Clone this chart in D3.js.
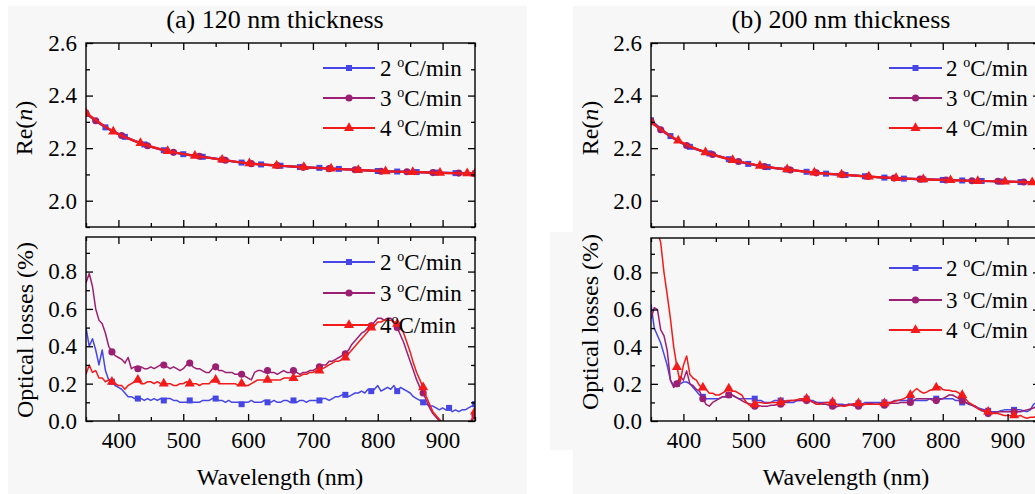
<!DOCTYPE html>
<html><head><meta charset="utf-8">
<script src="https://cdn.jsdelivr.net/npm/d3@7"></script>
<style>
body{margin:0;background:#fff;}
svg{display:block;}
</style>
</head><body>
<svg id="c" width="1035" height="494"></svg>
<script>
// ---------------- DATA ----------------
const seriesNames = ["2", "3", "4"];            // heating rates (ºC/min)
const xMajorTicks = [400, 500, 600, 700, 800, 900];
const xMinorTicks = [350, 450, 550, 650, 750, 850, 950];
const reMajorTicks = [2.0, 2.2, 2.4, 2.6];
const reMinorTicks = [1.9, 2.1, 2.3, 2.5];
const lossMajorTicks = [0.0, 0.2, 0.4, 0.6, 0.8];
const lossMinorTicks = [0.1, 0.3, 0.5, 0.7, 0.9];

// Re(n) — panel (a)
const reA2_wl = [350,380,410,440,470,500,530,560,590,620,650,680,710,740,770,800,830,860,890,920,950];
const reA2    = [2.332,2.279,2.243,2.214,2.192,2.177,2.167,2.156,2.145,2.138,2.133,2.128,2.125,2.121,2.117,2.113,2.111,2.109,2.107,2.105,2.103];
const reA3_wl = [350,365,405,445,485,525,565,605,645,685,725,765,805,845,885,925,950];
const reA3    = [2.332,2.304,2.248,2.209,2.184,2.169,2.154,2.141,2.134,2.127,2.122,2.118,2.112,2.110,2.107,2.105,2.103];
const reA4_wl = [350,392,434,476,518,560,602,644,686,728,770,812,854,896,938,950];
const reA4    = [2.334,2.263,2.219,2.189,2.171,2.156,2.142,2.134,2.128,2.122,2.117,2.112,2.109,2.106,2.104,2.103];

// Re(n) — panel (b)
const reB2_wl = [350,380,410,440,470,500,530,560,590,620,650,680,710,740,770,800,830,860,890,920,950];
const reB2    = [2.306,2.246,2.205,2.180,2.158,2.140,2.128,2.119,2.110,2.103,2.098,2.093,2.088,2.084,2.081,2.079,2.077,2.075,2.073,2.071,2.069];
const reB3_wl = [350,365,405,445,485,525,565,605,645,685,725,765,805,845,885,925,950];
const reB3    = [2.302,2.270,2.210,2.176,2.149,2.130,2.117,2.106,2.099,2.092,2.086,2.082,2.079,2.076,2.074,2.071,2.069];
const reB4_wl = [350,392,434,476,518,560,602,644,686,728,770,812,854,896,938,950];
const reB4    = [2.298,2.229,2.184,2.155,2.133,2.119,2.107,2.099,2.092,2.086,2.081,2.078,2.075,2.073,2.070,2.069];

// Optical losses — wavelength grid (nm)
const lossWl = [
 350,355,360,365,370,375,380,385,390,395,
 400,405,410,415,420,425,430,435,440,445,
 450,455,460,465,470,475,480,485,490,495,
 500,505,510,515,520,525,530,535,540,545,
 550,555,560,565,570,575,580,585,590,595,
 600,605,610,615,620,625,630,635,640,645,
 650,655,660,665,670,675,680,685,690,695,
 700,705,710,715,720,725,730,735,740,745,
 750,755,760,765,770,775,780,785,790,795,
 800,805,810,815,820,825,830,835,840,845,
 850,855,860,865,870,875,880,885,890,895,
 900,905,910,915,920,925,930,935,940,945,
 950];
const lossMarkerWl = [390,430,470,510,550,590,630,670,710,750,790,830,870,910,950];

// Optical losses — panel (a)
const lossA2 = [
 0.50,0.40,0.44,0.38,0.30,0.38,0.27,0.22,0.21,0.19,
 0.18,0.17,0.15,0.13,0.13,0.12,0.12,0.12,0.11,0.12,
 0.11,0.12,0.11,0.12,0.11,0.12,0.12,0.11,0.11,0.10,
 0.10,0.10,0.11,0.10,0.10,0.10,0.11,0.11,0.11,0.12,
 0.12,0.11,0.11,0.10,0.11,0.10,0.10,0.10,0.09,0.10,
 0.10,0.11,0.10,0.10,0.10,0.11,0.10,0.10,0.11,0.10,
 0.10,0.11,0.11,0.10,0.11,0.10,0.11,0.11,0.10,0.11,
 0.11,0.11,0.11,0.12,0.12,0.11,0.12,0.13,0.13,0.14,
 0.14,0.13,0.14,0.15,0.15,0.16,0.15,0.17,0.16,0.17,
 0.19,0.16,0.17,0.18,0.17,0.19,0.16,0.18,0.17,0.16,
 0.15,0.13,0.12,0.11,0.10,0.09,0.08,0.08,0.07,0.06,
 0.07,0.06,0.07,0.05,0.06,0.05,0.06,0.06,0.07,0.08,
 0.09];
const lossA3 = [
 0.74,0.79,0.72,0.60,0.54,0.52,0.47,0.40,0.37,0.35,
 0.34,0.33,0.31,0.34,0.28,0.29,0.28,0.29,0.28,0.28,
 0.29,0.28,0.29,0.30,0.30,0.29,0.28,0.29,0.28,0.27,
 0.28,0.30,0.31,0.29,0.28,0.28,0.27,0.26,0.26,0.28,
 0.29,0.27,0.27,0.26,0.26,0.26,0.25,0.25,0.25,0.24,
 0.23,0.22,0.26,0.27,0.27,0.26,0.27,0.26,0.26,0.25,
 0.26,0.27,0.26,0.26,0.27,0.26,0.25,0.26,0.26,0.27,
 0.27,0.28,0.29,0.30,0.30,0.32,0.32,0.33,0.34,0.35,
 0.36,0.38,0.41,0.43,0.45,0.47,0.48,0.50,0.51,0.53,
 0.55,0.55,0.54,0.55,0.55,0.53,0.50,0.46,0.42,0.37,
 0.32,0.27,0.22,0.18,0.15,0.11,0.07,0.04,0.02,0.00,
 -0.02,-0.03,-0.04,-0.05,-0.05,-0.05,-0.05,-0.04,-0.03,0.00,
 0.03];
const lossA4 = [
 0.25,0.30,0.26,0.27,0.23,0.23,0.21,0.22,0.21,0.20,
 0.19,0.19,0.17,0.19,0.20,0.21,0.22,0.20,0.20,0.21,
 0.21,0.20,0.21,0.20,0.20,0.20,0.20,0.19,0.19,0.20,
 0.20,0.21,0.20,0.20,0.20,0.19,0.20,0.20,0.20,0.22,
 0.22,0.20,0.20,0.20,0.20,0.20,0.20,0.19,0.20,0.19,
 0.19,0.20,0.21,0.22,0.22,0.22,0.22,0.22,0.22,0.22,
 0.22,0.23,0.23,0.23,0.23,0.24,0.24,0.25,0.25,0.26,
 0.26,0.27,0.27,0.28,0.29,0.30,0.31,0.32,0.32,0.33,
 0.34,0.36,0.38,0.40,0.42,0.44,0.46,0.48,0.50,0.51,
 0.53,0.53,0.54,0.54,0.54,0.53,0.52,0.51,0.47,0.42,
 0.37,0.31,0.26,0.22,0.18,0.13,0.09,0.05,0.03,0.01,
 -0.01,-0.02,-0.03,-0.04,-0.05,-0.05,-0.05,-0.04,-0.02,0.01,
 0.05];

// Optical losses — panel (b)
const lossB2 = [
 0.63,0.50,0.46,0.42,0.36,0.30,0.22,0.19,0.20,0.20,
 0.21,0.21,0.20,0.18,0.16,0.14,0.13,0.12,0.12,0.12,
 0.12,0.12,0.13,0.13,0.14,0.14,0.13,0.12,0.12,0.12,
 0.12,0.12,0.12,0.11,0.11,0.10,0.10,0.10,0.11,0.11,
 0.11,0.11,0.10,0.10,0.10,0.11,0.11,0.12,0.12,0.11,
 0.11,0.10,0.10,0.10,0.10,0.10,0.10,0.09,0.09,0.09,
 0.085,0.09,0.09,0.09,0.095,0.09,0.10,0.10,0.10,0.10,
 0.10,0.10,0.10,0.10,0.10,0.11,0.11,0.11,0.11,0.11,
 0.11,0.11,0.11,0.11,0.11,0.11,0.12,0.12,0.12,0.12,
 0.12,0.12,0.12,0.12,0.11,0.11,0.10,0.10,0.09,0.085,
 0.08,0.07,0.065,0.06,0.055,0.05,0.05,0.05,0.055,0.06,
 0.06,0.06,0.06,0.06,0.06,0.055,0.05,0.06,0.09,0.10,
 0.11];
const lossB3 = [
 0.55,0.61,0.60,0.49,0.46,0.38,0.22,0.18,0.20,0.24,
 0.22,0.27,0.20,0.19,0.17,0.16,0.12,0.09,0.08,0.10,
 0.11,0.12,0.13,0.13,0.14,0.14,0.13,0.12,0.11,0.10,
 0.095,0.09,0.08,0.085,0.08,0.08,0.08,0.085,0.085,0.09,
 0.09,0.10,0.10,0.11,0.11,0.11,0.11,0.11,0.11,0.11,
 0.10,0.10,0.095,0.09,0.09,0.085,0.08,0.075,0.08,0.085,
 0.085,0.09,0.085,0.08,0.08,0.085,0.09,0.095,0.095,0.09,
 0.09,0.09,0.085,0.09,0.095,0.095,0.095,0.10,0.10,0.10,
 0.10,0.11,0.12,0.12,0.12,0.12,0.12,0.11,0.11,0.115,
 0.12,0.13,0.14,0.14,0.13,0.12,0.11,0.10,0.095,0.085,
 0.075,0.065,0.055,0.05,0.04,0.04,0.045,0.05,0.05,0.05,
 0.05,0.05,0.05,0.05,0.05,0.055,0.06,0.065,0.07,0.08,
 0.09];
const lossB4 = [
 1.30,1.15,1.02,0.96,0.80,0.68,0.55,0.40,0.29,0.21,
 0.30,0.35,0.25,0.23,0.22,0.19,0.18,0.17,0.15,0.15,
 0.14,0.14,0.15,0.16,0.175,0.16,0.16,0.15,0.14,0.11,
 0.09,0.08,0.09,0.10,0.10,0.095,0.095,0.10,0.10,0.10,
 0.10,0.105,0.11,0.11,0.11,0.115,0.12,0.12,0.12,0.11,
 0.10,0.09,0.09,0.095,0.10,0.10,0.10,0.09,0.085,0.08,
 0.08,0.085,0.09,0.095,0.095,0.09,0.09,0.09,0.09,0.09,
 0.09,0.095,0.095,0.10,0.10,0.105,0.11,0.115,0.12,0.13,
 0.14,0.16,0.175,0.16,0.15,0.155,0.165,0.17,0.18,0.185,
 0.17,0.165,0.165,0.16,0.16,0.15,0.14,0.12,0.10,0.09,
 0.08,0.065,0.06,0.055,0.05,0.045,0.04,0.04,0.035,0.03,
 0.03,0.03,0.03,0.025,0.03,0.02,0.015,0.02,0.02,0.025,
 0.03];

// ---------------- STYLE / LAYOUT ----------------
const FONT = '"Liberation Serif", "Times New Roman", Times, Tinos, "Nimbus Roman", "Nimbus Roman No9 L", "TeX Gyre Termes", FreeSerif, "Noto Serif", "DejaVu Serif", "Bitstream Vera Serif", Georgia, serif';
const COLORS = ["#4646e6", "#9b1f72", "#f21a1a"];
const SYMBOLS = [d3.symbolSquare, d3.symbolCircle, d3.symbolTriangle];
const SYM_SIZE = [36, 40, 44];
const PW = 389;
const TOP_Y = [43, 227];
const BOT_Y = [237, 421];

const svg = d3.select("#c").style("font-family", FONT);

// paper backgrounds
svg.append("rect").attr("x", 8).attr("y", 6).attr("width", 519).attr("height", 488).attr("fill", "#f7f7f7");
svg.append("path").attr("d", "M573,6H1035V494H573V450H550V232H573Z").attr("fill", "#f7f7f7");

let clipCount = 0;
function superLabel(textSel, num, spaced) {
  textSel.append("tspan").text(num + (spaced ? "\u00a0" : ""));
  textSel.append("tspan").attr("font-size", "14px").attr("dy", "-9").text("o");
  textSel.append("tspan").attr("dy", "9").text("C/min");
}

function drawPanel(p) {
  const x = d3.scaleLinear().domain([350, 950]).range([p.left, p.left + PW]);
  const y = d3.scaleLinear().domain(p.yDomain).range([p.ys[1], p.ys[0]]);
  const cid = "clip" + (clipCount++);
  svg.append("clipPath").attr("id", cid).append("rect")
    .attr("x", p.left).attr("y", p.ys[0]).attr("width", PW).attr("height", p.ys[1] - p.ys[0]);

  const g = svg.append("g");
  const plot = g.append("g").attr("clip-path", `url(#${cid})`);

  p.series.forEach((s, i) => {
    const pts = s.wl.map((w, k) => [w, s.v[k]]);
    const line = d3.line().x(d => x(d[0])).y(d => y(d[1]))
      .curve(p.smooth ? d3.curveMonotoneX : d3.curveLinear);
    plot.append("path").attr("d", line(pts)).attr("fill", "none")
      .attr("stroke", COLORS[i]).attr("stroke-width", p.smooth ? 2.2 : 1.5)
      .attr("stroke-linejoin", "round");
    const mk = s.markers ? pts.filter(d => s.markers.includes(d[0])) : pts;
    plot.selectAll(null).data(mk).join("path")
      .attr("transform", d => `translate(${x(d[0])},${y(d[1])})`)
      .attr("d", d3.symbol(SYMBOLS[i], SYM_SIZE[i])())
      .attr("fill", COLORS[i]);
  });

  // axes (ticks inward on all four sides)
  const axisStyle = sel => {
    sel.attr("font-family", null).style("font-family", FONT).attr("font-size", 23);
    sel.select(".domain").remove();
    sel.selectAll("line").attr("stroke", "#000").attr("stroke-width", 1.3);
    sel.selectAll("text").attr("fill", "#000");
  };
  const b = g.append("g").attr("transform", `translate(0,${p.ys[1]})`);
  b.append("g").call(d3.axisBottom(x).tickValues(xMajorTicks).tickSize(-7).tickPadding(11)
    .tickFormat(p.xLabels ? d3.format("d") : () => "")).call(axisStyle);
  b.append("g").call(d3.axisBottom(x).tickValues(xMinorTicks).tickSize(-4).tickFormat(() => "")).call(axisStyle);
  const t = g.append("g").attr("transform", `translate(0,${p.ys[0]})`);
  t.append("g").call(d3.axisTop(x).tickValues(xMajorTicks).tickSize(-7).tickFormat(() => "")).call(axisStyle);
  t.append("g").call(d3.axisTop(x).tickValues(xMinorTicks).tickSize(-4).tickFormat(() => "")).call(axisStyle);
  const l = g.append("g").attr("transform", `translate(${p.left},0)`);
  l.append("g").call(d3.axisLeft(y).tickValues(p.yMajor).tickSize(-7).tickPadding(9)
    .tickFormat(d3.format(".1f"))).call(axisStyle);
  l.append("g").call(d3.axisLeft(y).tickValues(p.yMinor).tickSize(-4).tickFormat(() => "")).call(axisStyle);
  const r = g.append("g").attr("transform", `translate(${p.left + PW},0)`);
  r.append("g").call(d3.axisRight(y).tickValues(p.yMajor).tickSize(-7).tickFormat(() => "")).call(axisStyle);
  r.append("g").call(d3.axisRight(y).tickValues(p.yMinor).tickSize(-4).tickFormat(() => "")).call(axisStyle);

  g.append("rect").attr("x", p.left).attr("y", p.ys[0]).attr("width", PW).attr("height", p.ys[1] - p.ys[0])
    .attr("fill", "none").attr("stroke", "#000").attr("stroke-width", 1.4);

  // legend
  const lg = g.append("g");
  seriesNames.forEach((nm, i) => {
    const yy = p.legend.ys[i];
    lg.append("line").attr("x1", p.legend.x1).attr("x2", p.legend.x2).attr("y1", yy).attr("y2", yy)
      .attr("stroke", COLORS[i]).attr("stroke-width", 1.8);
    lg.append("path").attr("transform", `translate(${(p.legend.x1 + p.legend.x2) / 2},${yy})`)
      .attr("d", d3.symbol(SYMBOLS[i], SYM_SIZE[i])()).attr("fill", COLORS[i]);
    const tx = lg.append("text").attr("x", p.legend.tx).attr("y", yy).attr("dy", "0.35em")
      .attr("font-size", "23px").attr("fill", "#000");
    superLabel(tx, nm, !(p.legend.tight && i === 2));
  });

  // y title
  const yt = g.append("text").attr("transform", `translate(${p.yTitle[0]},${p.yTitle[1]}) rotate(-90)`)
    .attr("text-anchor", "middle").attr("dy", "0.35em").attr("font-size", "24px").attr("fill", "#000");
  if (p.yTitleText === "Re") {
    yt.append("tspan").text("Re(");
    yt.append("tspan").attr("font-style", "italic").text("n");
    yt.append("tspan").text(")");
  } else {
    yt.text(p.yTitleText);
  }
}

function lossSeries(arrs) {
  return arrs.map(v => ({ wl: lossWl, v: v, markers: lossMarkerWl }));
}

const panels = [
  { left: 86, ys: TOP_Y, yDomain: [1.9, 2.6], yMajor: reMajorTicks, yMinor: reMinorTicks, smooth: true, xLabels: false,
    series: [{ wl: reA2_wl, v: reA2 }, { wl: reA3_wl, v: reA3 }, { wl: reA4_wl, v: reA4 }],
    legend: { x1: 323, x2: 375, tx: 380, ys: [68, 98, 128] }, yTitle: [24, 128], yTitleText: "Re" },
  { left: 86, ys: BOT_Y, yDomain: [0, 0.985], yMajor: lossMajorTicks, yMinor: lossMinorTicks, smooth: false, xLabels: true,
    series: lossSeries([lossA2, lossA3, lossA4]),
    legend: { x1: 323, x2: 375, tx: 380, ys: [262, 293, 325], tight: true }, yTitle: [25, 330], yTitleText: "Optical losses (%)" },
  { left: 651, ys: TOP_Y, yDomain: [1.9, 2.6], yMajor: reMajorTicks, yMinor: reMinorTicks, smooth: true, xLabels: false,
    series: [{ wl: reB2_wl, v: reB2 }, { wl: reB3_wl, v: reB3 }, { wl: reB4_wl, v: reB4 }],
    legend: { x1: 889, x2: 942, tx: 946, ys: [68, 98, 128] }, yTitle: [590, 128], yTitleText: "Re" },
  { left: 651, ys: [238, 421], yDomain: [0, 0.985], yMajor: lossMajorTicks, yMinor: lossMinorTicks, smooth: false, xLabels: true,
    series: lossSeries([lossB2, lossB3, lossB4]),
    legend: { x1: 889, x2: 942, tx: 946, ys: [268, 300, 330] }, yTitle: [590, 322], yTitleText: "Optical losses (%)" }
];
panels.forEach(drawPanel);

// titles and x-axis titles
svg.append("text").attr("x", 275).attr("y", 28).attr("text-anchor", "middle").attr("font-size", "26px").text("(a) 120 nm thickness");
svg.append("text").attr("x", 841).attr("y", 28).attr("text-anchor", "middle").attr("font-size", "26px").text("(b) 200 nm thickness");
svg.append("text").attr("x", 280).attr("y", 485).attr("text-anchor", "middle").attr("font-size", "24px").text("Wavelength (nm)");
svg.append("text").attr("x", 846).attr("y", 485).attr("text-anchor", "middle").attr("font-size", "24px").text("Wavelength (nm)");
</script>
</body></html>
